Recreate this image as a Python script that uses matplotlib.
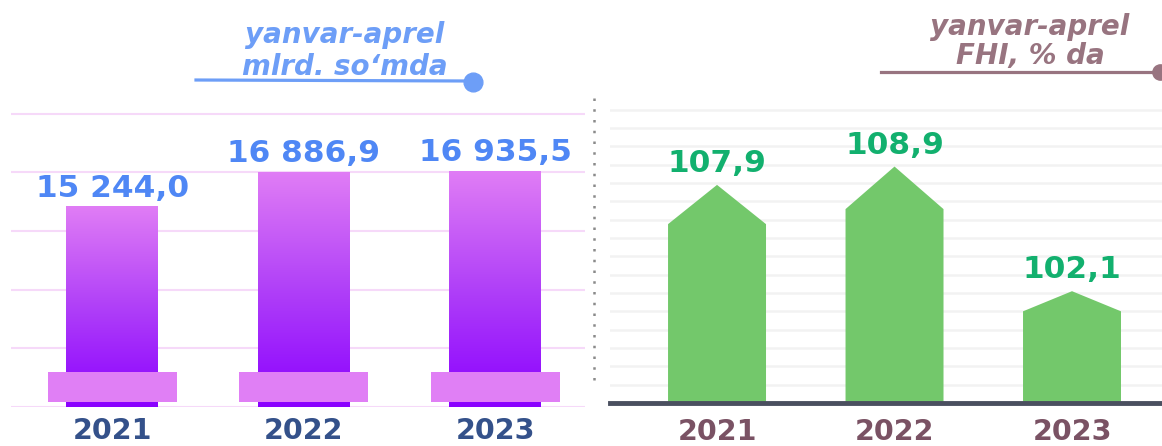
import numpy as np
import matplotlib
matplotlib.use("Agg")
import matplotlib.pyplot as plt
import matplotlib.transforms as mtransforms
from matplotlib.patches import Rectangle, Polygon
from matplotlib.lines import Line2D
from matplotlib.colors import LinearSegmentedColormap

# data
years = ["2021", "2022", "2023"]
volume = [15244.0, 16886.9, 16935.5]          # mlrd. so'm
volume_labels = ["15 244,0", "16 886,9", "16 935,5"]
growth = [107.9, 108.9, 102.1]                 # FHI, % da
growth_labels = ["107,9", "108,9", "102,1"]

W, H = 1162, 446
fig = plt.figure(figsize=(W / 100, H / 100), dpi=100)


def fx(x):
    return x / W


def fy(y):
    return 1 - y / H


# ---------------- left panel ----------------
ax1 = fig.add_axes([fx(11), fy(407), (585 - 11) / W, (407 - 100) / H])
base1, step1 = 5700, 2800
top1 = base1 + 307 * step1 / 58.7
cmap = LinearSegmentedColormap.from_list("bar", ["#8A00FF", "#B040F8", "#E07DF5"])
grad = np.linspace(0, 1, 256).reshape(-1, 1)

for i, v in enumerate(volume):
    ax1.imshow(grad, extent=(i - 0.24, i + 0.24, base1, v), cmap=cmap,
               origin="lower", aspect="auto", zorder=2)
    ax1.annotate(volume_labels[i], (i, v), xytext=(0, 3), textcoords="offset points",
                 ha="center", va="bottom", fontsize=22.5, fontweight="bold",
                 color="#4F87F5", zorder=5)

blend = mtransforms.blended_transform_factory(ax1.transData, ax1.transAxes)
for i in range(len(volume)):
    ax1.add_patch(Rectangle((i - 0.337, 0.016), 0.674, 0.098, transform=blend,
                            color="#E07FF5", zorder=3, lw=0))

ax1.set_xlim(-0.53, 2.47)
ax1.set_ylim(base1, top1)
ax1.set_yticks([base1 + k * step1 for k in range(6)])
ax1.grid(axis="y", color="#F6D9F9", lw=1.5, zorder=0)
ax1.set_axisbelow(True)
ax1.set_xticks(range(len(years)), years)
ax1.tick_params(axis="x", length=0, pad=7, labelsize=20.5, labelcolor="#34518A")
ax1.tick_params(axis="y", left=False, labelleft=False)
for t in ax1.get_xticklabels():
    t.set_fontweight("bold")
for s in ax1.spines.values():
    s.set_visible(False)

# ---------------- right panel ----------------
ax2 = fig.add_axes([fx(610), fy(403), (1162 - 610) / W, (403 - 100) / H])
base2 = 96.0
top2 = base2 + 303 / 18.33

for i, v in enumerate(growth):
    h = v - base2
    w = 0.276
    pts = [(i - w, base2), (i + w, base2), (i + w, base2 + 0.82 * h),
           (i, v), (i - w, base2 + 0.82 * h)]
    ax2.add_patch(Polygon(pts, closed=True, color="#73C86B", lw=0, zorder=2))
    ax2.annotate(growth_labels[i], (i, v), xytext=(0, 5), textcoords="offset points",
                 ha="center", va="bottom", fontsize=22.5, fontweight="bold",
                 color="#12B06E", zorder=5)

ax2.axhline(base2, color="#4A4F5F", lw=3.5, zorder=4, clip_on=False)
ax2.set_xlim(-0.603, 2.507)
ax2.set_ylim(base2, top2)
ax2.set_yticks(np.arange(97, 113))
ax2.grid(axis="y", color="#F2F2F2", lw=1.8, zorder=0)
ax2.set_axisbelow(True)
ax2.set_xticks(range(len(years)), years)
ax2.tick_params(axis="x", length=0, pad=11, labelsize=20.5, labelcolor="#7A5264")
ax2.tick_params(axis="y", left=False, labelleft=False)
for t in ax2.get_xticklabels():
    t.set_fontweight("bold")
for s in ax2.spines.values():
    s.set_visible(False)

# ---------------- titles and decorations ----------------
blue = "#6D9EF7"
mauve = "#987480"
tkw = dict(ha="center", va="baseline", fontsize=20, style="italic", weight="bold")
fig.text(fx(345), fy(43), "yanvar-aprel", color=blue, **tkw)
fig.text(fx(345), fy(75), "mlrd. so‘mda", color=blue, **tkw)
fig.add_artist(Line2D([fx(196), fx(470)], [fy(80), fy(81)], color=blue, lw=2.3))
fig.add_artist(Line2D([fx(473)], [fy(82)], marker="o", markersize=13.5,
                      color=blue, lw=0))

fig.text(fx(1030), fy(35), "yanvar-aprel", color=mauve, **tkw)
fig.text(fx(1030), fy(64), "FHI, % da", color=mauve, **tkw)
fig.add_artist(Line2D([fx(881), fx(1158)], [fy(72), fy(72)], color=mauve, lw=2.3))
fig.add_artist(Line2D([fx(1160)], [fy(72)], marker="o", markersize=11,
                      color=mauve, lw=0))

# dotted separator
fig.add_artist(Line2D([fx(594), fx(594)], [fy(98), fy(388)], color="#8A8A8A",
                      lw=1.8, linestyle=(0, (1, 3.3))))

fig.savefig("out.png", dpi=100)
